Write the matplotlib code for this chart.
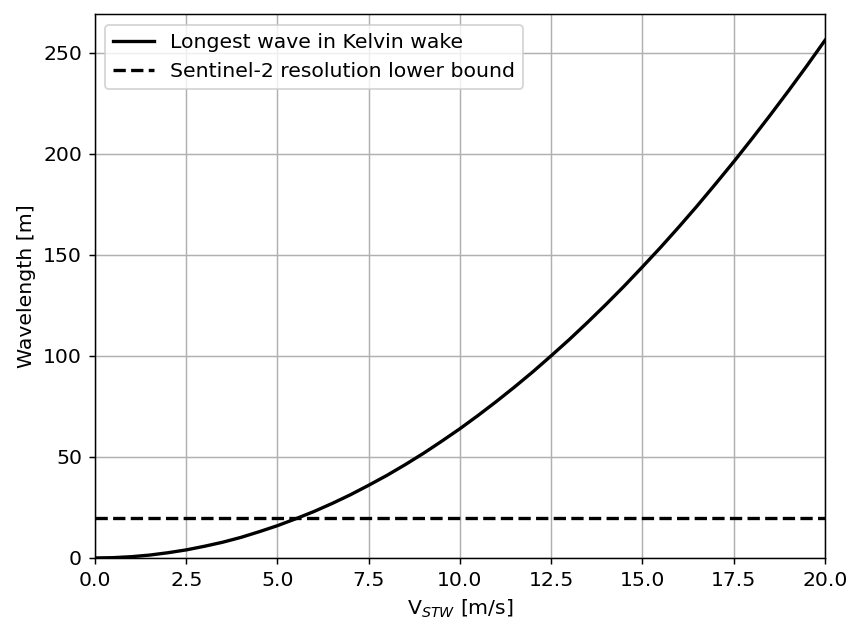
import matplotlib
matplotlib.use('Agg')
import matplotlib.pyplot as plt

plt.rcParams['font.size'] = 11

# ship speed through water [m/s] and longest Kelvin wake wavelength [m]
speed = [0, 0.5, 1, 1.5, 2, 2.5, 3, 3.5, 4, 4.5, 5, 5.5, 6, 6.5, 7, 7.5,
         8, 8.5, 9, 9.5, 10, 10.5, 11, 11.5, 12, 12.5, 13, 13.5, 14, 14.5,
         15, 15.5, 16, 16.5, 17, 17.5, 18, 18.5, 19, 19.5, 20]
wavelength = [0.0, 0.16, 0.64, 1.44, 2.6, 4.0, 5.8, 7.8, 10.2, 13.0, 16.0,
              19.4, 23.0, 27.0, 31.3, 36.0, 40.9, 46.2, 51.8, 57.8, 64.0,
              70.6, 77.5, 84.7, 92.2, 100.1, 108.2, 116.7, 125.5, 134.6, 144.1,
              153.8, 163.9, 174.3, 185.1, 196.1, 207.5, 219.2, 231.2, 243.5, 256.2]

# Sentinel-2 resolution lower bound [m]
s2_bound = 20

fig = plt.figure(figsize=(851 / 133, 624 / 133), dpi=133)
ax = fig.add_axes([0.1116, 0.1058, 0.9694 - 0.1116, 0.9768 - 0.1058])

ax.plot(speed, wavelength, color='black', lw=1.8, label='Longest wave in Kelvin wake')
ax.axhline(s2_bound, color='black', lw=1.8, ls='--',
           label='Sentinel-2 resolution lower bound')

ax.set_xlim(0, 20)
ax.set_ylim(bottom=0)
ax.set_xlabel('V$_{STW}$ [m/s]')
ax.set_ylabel('Wavelength [m]')
ax.grid(True)
ax.legend(loc='upper left')

plt.savefig('out.png', dpi=133)
